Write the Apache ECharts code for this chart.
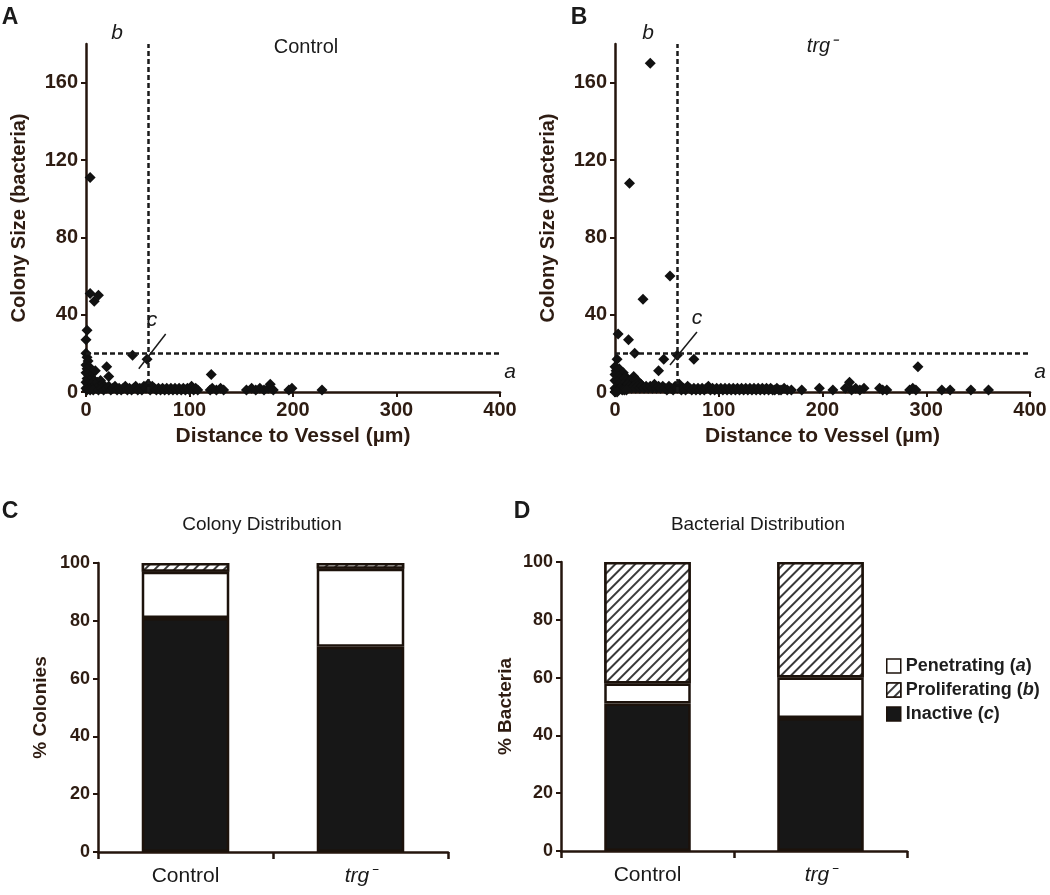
<!DOCTYPE html>
<html><head><meta charset="utf-8">
<script src="https://cdn.jsdelivr.net/npm/echarts@6/dist/echarts.min.js"></script>
<style>html,body{margin:0;padding:0;background:#fff}#c{width:1050px;height:895px}</style>
</head><body><div id="c"></div>
<script>
// ---------- DATA ----------
const controlScatter = [
[4,111],[4,51],[8,47],[12,50],[1,32],[0,27],[45,19],[59,17],[9,11],[20,13],[22,8],[121,9],
[0,20],[1,18],[2,16],[0,14],[3,13],[1,12],[5,10],[0,10],[2,9],[4,8],[1,7],[6,7],[3,6],[8,6],[0,5],[11,5],[14,6],[2,4],[5,4],[9,4],[13,3],[16,4],[18,3],[0,2],[3,2],[6,2],[10,2],[1,1],[4,1],[7,1],[12,1],[15,2],[17,1],[20,2],[22,3],[24,1],[26,2],[28,3],[30,1],[32,2],[34,1],[36,2],[38,3],[40,1],[42,2],[44,1],[46,2],[48,3],[50,1],[52,2],[54,1],[56,3],[58,2],[60,4],[62,1],[64,3],[66,2],[68,1],[70,2],[72,1],[74,2],[76,1],[78,2],[80,1],[82,2],[84,1],[86,2],[88,1],[90,2],[92,1],[94,2],[96,1],[98,2],[100,1],[102,3],[104,1],[106,2],[108,1],[120,1],[122,2],[126,1],[130,2],[133,1],[155,1],[160,2],[164,1],[168,2],[172,1],[176,2],[178,4],[181,1],[196,1],[199,2],[228,1]
];
const trgScatter = [
[34,170],[14,108],[53,60],[27,48],[3,30],[13,27],[19,20],[2,17],[47,17],[60,19],[76,17],[42,11],[18,8],[292,13],[226,5],
[0,13],[1,11],[0,9],[2,10],[4,12],[6,9],[8,10],[10,8],[3,8],[5,7],[7,6],[9,7],[11,6],[13,5],[15,6],[17,5],[19,4],[21,6],[23,5],[25,4],[0,6],[2,5],[4,4],[6,3],[8,4],[10,3],[12,4],[14,3],[16,2],[18,3],[20,2],[22,3],[24,2],[26,3],[28,2],[30,3],[32,2],[34,3],[36,2],[38,4],[40,2],[42,3],[44,2],[46,3],[48,2],[50,1],[52,3],[54,2],[56,1],[58,3],[60,2],[62,4],[64,1],[66,2],[68,1],[70,3],[72,2],[74,1],[76,2],[78,1],[80,2],[82,1],[84,2],[86,1],[88,2],[90,3],[92,1],[94,2],[96,1],[98,2],[100,1],[102,2],[104,1],[106,2],[108,1],[110,2],[112,1],[114,2],[116,1],[118,2],[120,1],[122,2],[124,1],[126,2],[128,1],[130,2],[132,1],[134,2],[136,1],[138,2],[140,1],[142,2],[144,1],[146,2],[148,1],[150,2],[152,1],[154,1],[156,2],[158,1],[160,1],[163,2],[166,1],[170,1],[180,1],[197,2],[210,1],[222,2],[228,1],[232,2],[236,1],[240,2],[255,2],[258,1],[262,1],[284,1],[287,2],[290,1],[315,1],[323,1],[343,1],[360,1],[0,2],[1,1],[3,1],[5,2],[7,1],[9,1],[11,1],[0,0],[2,0]
];
const thresholdDistance = 60;
const thresholdSize = 20;
const controlArrow = [[77,30],[51,12]];
const trgArrow = [[79,31],[53,14]];
const scatterYTicks = [0,40,80,120,160];
const barCategories = ['Control','trg⁻'];
const colonyInactive = [81,71];
const colonyPenetrating = [16,27];
const colonyProliferating = [3,2];
const bacteriaInactive = [51,46];
const bacteriaPenetrating = [7,14];
const bacteriaProliferating = [42,40];
const legendNames = ['Penetrating','Proliferating','Inactive'];
const legendTags = ['a','b','c'];

// ---------- STYLE ----------
const FONT = "'Liberation Sans', Arial, sans-serif";
const TXT = '#2e1c12';
const AX = '#24150d';
const axisLine = {show:true, lineStyle:{color:AX, width:2.5}};
const tick = {show:true, length:5, lineStyle:{color:AX, width:2}};
const boldLabel = {color:TXT, fontFamily:FONT, fontWeight:'bold', fontSize:18};

function scatterX(idx){
  return {gridIndex:idx, type:'value', min:0, max:400, interval:100,
    axisLine, axisTick:tick, splitLine:{show:false},
    axisLabel:Object.assign({margin:8}, boldLabel, {fontSize:20}),
    name:'Distance to Vessel (µm)', nameLocation:'middle', nameGap:34,
    nameTextStyle:{color:TXT, fontFamily:FONT, fontWeight:'bold', fontSize:21}};
}
function scatterY(idx){
  return {gridIndex:idx, type:'value', min:0, max:180, interval:40,
    axisLine, axisTick:Object.assign({customValues:scatterYTicks}, tick), splitLine:{show:false},
    axisLabel:Object.assign({margin:8, customValues:scatterYTicks}, boldLabel, {fontSize:20}),
    name:'Colony Size (bacteria)', nameLocation:'middle', nameGap:57, nameRotate:90,
    nameTextStyle:{color:TXT, fontFamily:FONT, fontWeight:'bold', fontSize:20}};
}
function scatterSeries(idx, data, arrow){
  return {type:'scatter', xAxisIndex:idx, yAxisIndex:idx, data,
    symbol:'diamond', symbolSize:11, itemStyle:{color:'#111111', opacity:1}, silent:true, z:3,
    markLine:{silent:true, symbol:['none','none'], label:{show:false}, animation:false,
      data:[
        {xAxis:thresholdDistance, lineStyle:{type:[5,3], width:2.5, color:'#1a1a1a'}},
        {yAxis:thresholdSize, lineStyle:{type:[5,3], width:2.5, color:'#1a1a1a'}},
        [{coord:arrow[0], lineStyle:{type:'solid', width:1.5, color:'#1a1a1a'}},{coord:arrow[1]}]
      ]}};
}
function barX(idx){
  return {gridIndex:idx, type:'category', data:barCategories,
    axisLine, axisTick:{show:true, length:7, alignWithLabel:false, lineStyle:{color:AX, width:2.5}},
    axisLabel:{margin:14, color:'#1a1a1a', fontFamily:FONT, fontSize:21,
      formatter:v => v==='Control' ? v : '{it|'+v+'}',
      rich:{it:{fontStyle:'italic', fontFamily:FONT, fontSize:21, color:'#1a1a1a'}}}};
}
function barY(idx, name, gap){
  return {gridIndex:idx, type:'value', min:0, max:100, interval:20,
    axisLine, axisTick:tick, splitLine:{show:false},
    axisLabel:Object.assign({margin:8}, boldLabel),
    name, nameLocation:'middle', nameGap:gap, nameRotate:90,
    nameTextStyle:{color:TXT, fontFamily:FONT, fontWeight:'bold', fontSize:19}};
}
const hatch = {symbol:'rect', symbolSize:1, dashArrayX:[1,0], dashArrayY:[1.2,4.6], rotation:-Math.PI/4, color:'#3a3a3a', backgroundColor:'#ffffff'};
const border = {borderColor:'#1c120b', borderWidth:2.5};
function barSeries(idx, inactive, pen, prol){
  const common = {type:'bar', xAxisIndex:idx, yAxisIndex:idx, stack:'s'+idx, barWidth:'50%', silent:true};
  return [
    Object.assign({name:'Inactive', data:inactive, itemStyle:Object.assign({color:'#171717'}, border)}, common),
    Object.assign({name:'Penetrating', data:pen, itemStyle:Object.assign({color:'#ffffff'}, border)}, common),
    Object.assign({name:'Proliferating', data:prol, itemStyle:Object.assign({color:'#ffffff', decal:hatch}, border)}, common)
  ];
}
function txt(text, x, y, size, opts){
  return {type:'text', x, y, silent:true, style:Object.assign({text, fill:'#1a1a1a', font:(opts&&opts.font)||('normal '+size+'px '+FONT), align:'center', verticalAlign:'middle'})};
}

const option = {
  backgroundColor:'#ffffff',
  animation:false,
  grid:[
    {left:86, top:44, width:414, height:348},
    {left:615, top:44, width:415, height:348},
    {left:98, top:563, width:350, height:289},
    {left:561, top:562, width:346, height:289}
  ],
  xAxis:[scatterX(0), scatterX(1), barX(2), barX(3)],
  yAxis:[scatterY(0), scatterY(1), barY(2,'% Colonies',48), barY(3,'% Bacteria',46)],
  legend:{data:legendNames.map(n => ({name:n, icon:'rect'})), orient:'vertical', left:881, top:652, itemWidth:14, itemHeight:14, itemGap:6,
    itemStyle:{borderWidth:1.5},
    formatter:name => '{n|'+name+' (}{i|'+legendTags[legendNames.indexOf(name)]+'}{n|)}',
    textStyle:{rich:{
      n:{fontFamily:FONT, fontWeight:'bold', fontSize:18, color:'#1e1e1e'},
      i:{fontFamily:FONT, fontWeight:'bold', fontStyle:'italic', fontSize:18, color:'#1e1e1e'}}}},
  series:[
    scatterSeries(0, controlScatter, controlArrow),
    scatterSeries(1, trgScatter, trgArrow),
    ...barSeries(2, colonyInactive, colonyPenetrating, colonyProliferating),
    ...barSeries(3, bacteriaInactive, bacteriaPenetrating, bacteriaProliferating)
  ],
  graphic:[
    txt('A', 10, 18, 0, {font:'bold 23px '+FONT}),
    txt('B', 579, 18, 0, {font:'bold 23px '+FONT}),
    txt('C', 10, 512, 0, {font:'bold 23px '+FONT}),
    txt('D', 522, 512, 0, {font:'bold 23px '+FONT}),
    txt('b', 117, 33, 0, {font:'italic 21px '+FONT}),
    txt('Control', 306, 47, 20),
    txt('c', 152, 320, 0, {font:'italic 21px '+FONT}),
    txt('a', 510, 372, 0, {font:'italic 21px '+FONT}),
    txt('b', 648, 33, 0, {font:'italic 21px '+FONT}),
    txt('trg⁻', 822, 46, 0, {font:'italic 20px '+FONT}),
    txt('c', 697, 318, 0, {font:'italic 21px '+FONT}),
    txt('a', 1040, 372, 0, {font:'italic 21px '+FONT}),
    txt('Colony Distribution', 262, 525, 19),
    txt('Bacterial Distribution', 758, 525, 19)
  ]
};
const chart = echarts.init(document.getElementById('c'), null, {renderer:'canvas'});
chart.setOption(option);
</script>
</body></html>
